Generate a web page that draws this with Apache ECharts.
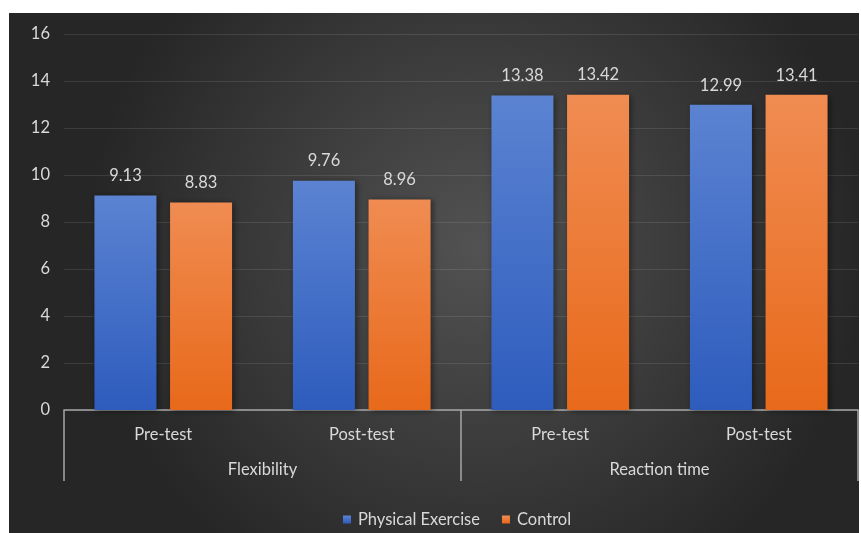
<!DOCTYPE html>
<html><head><meta charset="utf-8">
<script src="https://cdn.jsdelivr.net/npm/echarts@6/dist/echarts.min.js"></script>
<style>
html,body{margin:0;padding:0;background:#fff;width:861px;height:533px;overflow:hidden}
#c{position:absolute;left:9px;top:13px;width:850px;height:520px}
</style></head><body>
<div id="c"></div>
<script>
const innerCategories = ['Pre-test','Post-test','Pre-test','Post-test'];
const outerCategories = ['Flexibility','Reaction time'];
const physicalExercise = [9.13, 9.76, 13.38, 12.99];
const control = [8.83, 8.96, 13.42, 13.41];
const seriesNames = ['Physical Exercise','Control'];
const yTicks = {min:0, max:16, interval:2};

const FONT = 'Lato';
const TXT = '#d9d9d9';
const FS = 16.5;
const chart = echarts.init(document.getElementById('c'), null, {renderer:'canvas'});
function grad(top, bottom){
  return new echarts.graphic.LinearGradient(0,0,0,1,[{offset:0,color:top},{offset:1,color:bottom}]);
}
chart.setOption({
  backgroundColor: new echarts.graphic.RadialGradient(0.55,0.45,0.75,[
    {offset:0,color:'#525252'},{offset:1,color:'#262626'}]),
  textStyle:{fontFamily:FONT},
  grid:{left:55, right:1, top:21, bottom:123, containLabel:false},
  legend:{
    data:seriesNames, bottom:0, left:329, itemWidth:8, itemHeight:8, itemGap:22,
    icon:'rect', textStyle:{color:TXT, fontSize:FS, fontFamily:FONT, padding:[0,0,0,2]}
  },
  xAxis:[
    {type:'category', data:innerCategories, position:'bottom',
     axisLine:{lineStyle:{color:'#a6a6a6', width:1.5}},
     axisTick:{show:false},
     axisLabel:{color:TXT, fontSize:FS, margin:16, fontFamily:FONT}},
    {type:'category', data:outerCategories, position:'bottom',
     axisLine:{show:false},
     axisTick:{show:true, length:71, lineStyle:{color:'#a6a6a6', width:1.5}},
     axisLabel:{color:TXT, fontSize:FS, margin:51, fontFamily:FONT}}
  ],
  yAxis:{type:'value', min:yTicks.min, max:yTicks.max, interval:yTicks.interval,
    axisLine:{show:false}, axisTick:{show:false},
    axisLabel:{color:TXT, fontSize:FS, margin:14, fontFamily:FONT},
    splitLine:{lineStyle:{color:'rgba(255,255,255,0.1)', width:1}}},
  series:[
    {name:seriesNames[0], type:'bar', xAxisIndex:0, data:physicalExercise,
     barWidth:62, barGap:'22%',
     itemStyle:{color:grad('#5b83d2','#2e5cbd'), shadowColor:'rgba(0,0,0,0.45)', shadowBlur:6, shadowOffsetX:2, shadowOffsetY:1},
     label:{show:true, position:'top', distance:11, color:TXT, fontSize:FS, fontFamily:FONT}},
    {name:seriesNames[1], type:'bar', xAxisIndex:0, data:control,
     barWidth:62,
     itemStyle:{color:grad('#f08c52','#e8691a'), shadowColor:'rgba(0,0,0,0.45)', shadowBlur:6, shadowOffsetX:2, shadowOffsetY:1},
     label:{show:true, position:'top', distance:11, color:TXT, fontSize:FS, fontFamily:FONT}}
  ]
});
</script>
</body></html>
